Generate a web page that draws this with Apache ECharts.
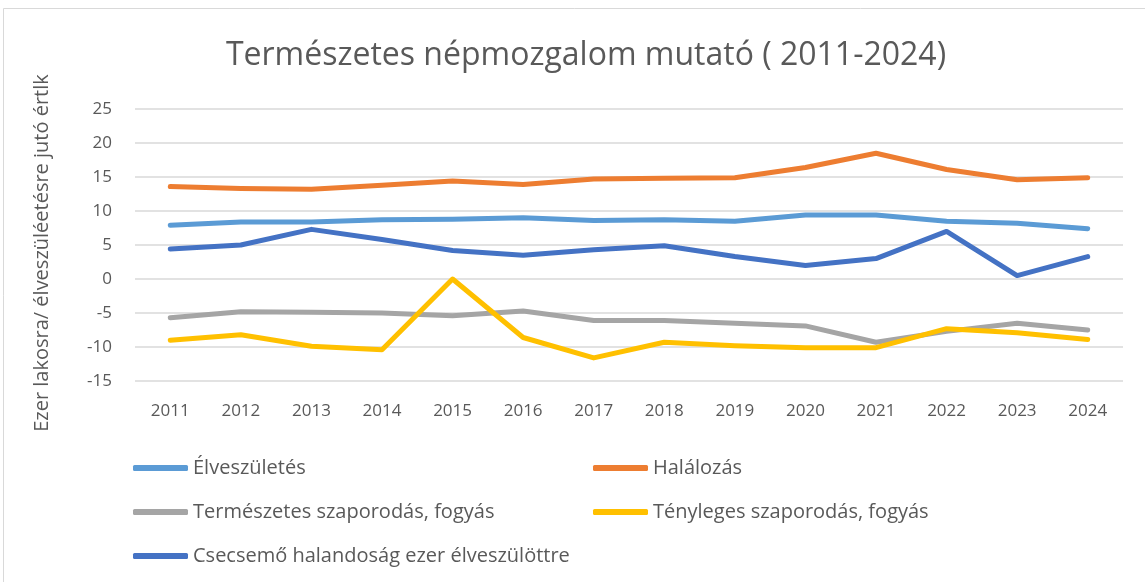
<!DOCTYPE html>
<html>
<head>
<meta charset="utf-8">
<script src="https://cdn.jsdelivr.net/npm/echarts@6/dist/echarts.min.js"></script>
<style>
  html, body { margin: 0; padding: 0; background: #fff; }
  #chart { width: 1145px; height: 582px; }
</style>
</head>
<body>
<div id="chart"></div>
<script>
// évek
const years = ['2011', '2012', '2013', '2014', '2015', '2016', '2017', '2018', '2019', '2020', '2021', '2022', '2023', '2024']
const elveszuletes = [7.9, 8.4, 8.4, 8.7, 8.8, 9.0, 8.6, 8.7, 8.5, 9.4, 9.4, 8.5, 8.2, 7.4]
const halalozas = [13.6, 13.3, 13.2, 13.8, 14.4, 13.9, 14.7, 14.8, 14.9, 16.4, 18.5, 16.1, 14.6, 14.9]
const termSzap = [-5.7, -4.8, -4.9, -5.0, -5.4, -4.7, -6.1, -6.1, -6.5, -6.9, -9.3, -7.7, -6.5, -7.5]
const tenySzap = [-9.0, -8.2, -9.9, -10.4, 0.0, -8.6, -11.6, -9.3, -9.8, -10.1, -10.1, -7.3, -7.9, -8.9]
const csecsemo = [4.4, 5.0, 7.3, 5.8, 4.2, 3.5, 4.3, 4.9, 3.3, 2.0, 3.0, 7.0, 0.5, 3.3]

const fontFamily = 'Open Sans'
const textColor = '#595959'

let myChart = echarts.init(document.getElementById('chart'))

function line(name, data, color) {
  return {
    name: name,
    type: 'line',
    data: data,
    symbol: 'none',
    lineStyle: { width: 5, color: color, cap: 'round', join: 'round' },
    itemStyle: { color: color },
    animation: false
  }
}

const legendText = { fontFamily: fontFamily, fontSize: 20, color: textColor }

let option = {
  backgroundColor: '#fff',
  title: {
    text: 'Természetes népmozgalom mutató ( 2011-2024)',
    left: 581,
    textAlign: 'center',
    top: 35,
    textStyle: { fontFamily: fontFamily, fontSize: 32, fontWeight: 'normal', color: textColor }
  },
  graphic: [
    {
      type: 'rect',
      shape: { x: 3.5, y: 8.5, width: 1160, height: 600 },
      style: { fill: 'none', stroke: '#d9d9d9', lineWidth: 1 },
      silent: true
    },
    {
      type: 'text',
      x: 42,
      y: 253,
      rotation: Math.PI / 2,
      style: {
        text: 'Ezer lakosra/ élveszüléetésre jutó értlk',
        fontFamily: fontFamily,
        fontSize: 20,
        fill: textColor,
        align: 'center',
        verticalAlign: 'middle'
      }
    }
  ],
  legend: [
    {
      data: ['Élveszületés', 'Természetes szaporodás, fogyás', 'Csecsemő halandoság ezer élveszülöttre'],
      orient: 'vertical',
      left: 128,
      top: 453,
      itemWidth: 55,
      itemHeight: 6,
      itemGap: 24,
      icon: 'roundRect',
      textStyle: legendText,
      selectedMode: false
    },
    {
      data: ['Halálozás', 'Tényleges szaporodás, fogyás'],
      orient: 'vertical',
      left: 588,
      top: 453,
      itemWidth: 55,
      itemHeight: 6,
      itemGap: 24,
      icon: 'roundRect',
      textStyle: legendText,
      selectedMode: false
    }
  ],
  grid: {
    left: 135,
    right: 22,
    top: 109,
    bottom: 201
  },
  xAxis: {
    type: 'category',
    data: years,
    boundaryGap: true,
    axisLine: { show: false },
    axisTick: { show: false },
    axisLabel: { fontFamily: fontFamily, fontSize: 17, color: textColor, margin: 22 }
  },
  yAxis: {
    type: 'value',
    min: -15,
    max: 25,
    interval: 5,
    axisLine: { show: false },
    axisTick: { show: false },
    axisLabel: { fontFamily: fontFamily, fontSize: 17, color: textColor, margin: 23 },
    splitLine: { lineStyle: { color: '#d9d9d9', width: 1.5 } }
  },
  series: [
    line('Élveszületés', elveszuletes, '#5B9BD5'),
    line('Halálozás', halalozas, '#ED7D31'),
    line('Természetes szaporodás, fogyás', termSzap, '#A5A5A5'),
    line('Tényleges szaporodás, fogyás', tenySzap, '#FFC000'),
    line('Csecsemő halandoság ezer élveszülöttre', csecsemo, '#4472C4')
  ]
}
myChart.setOption(option)
</script>
</body>
</html>
